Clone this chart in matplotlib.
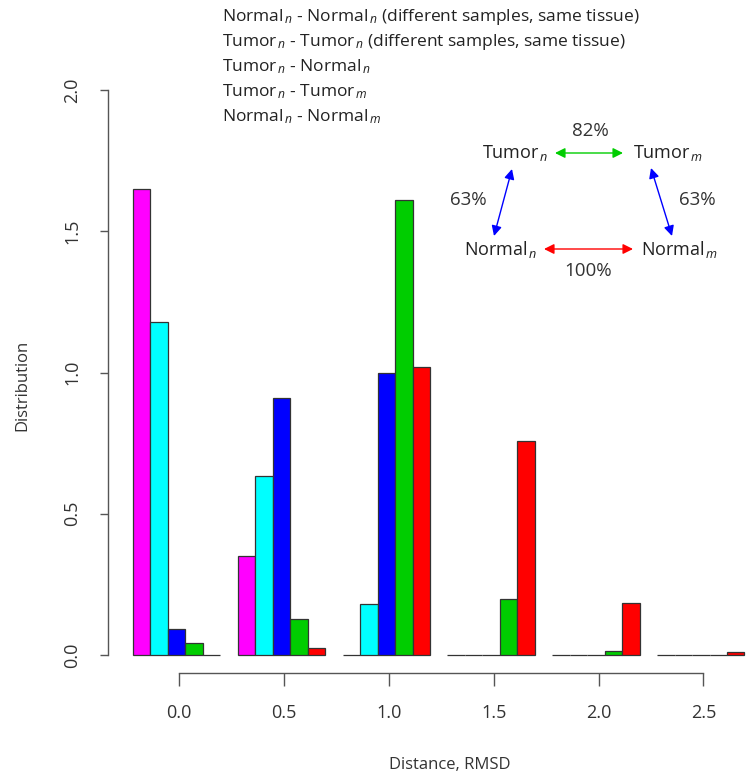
import numpy as np
import matplotlib
matplotlib.use('Agg')
from matplotlib import pyplot as plt

plt.rcParams['font.family'] = ['Open Sans', 'DejaVu Sans']
plt.rcParams['mathtext.fontset'] = 'custom'
plt.rcParams['mathtext.rm'] = 'Open Sans'
plt.rcParams['mathtext.it'] = 'Open Sans:italic'

# Data
groups = [0.0, 0.5, 1.0, 1.5, 2.0, 2.5]
normal_same = [1.65, 0.350, 0.0, 0.0, 0.0, 0.0]      # magenta
tumor_same = [1.18, 0.635, 0.18, 0.0, 0.0, 0.0]      # cyan
tumor_normal = [0.091, 0.909, 1.0, 0.0, 0.0, 0.0]    # blue
tumor_tumor = [0.041, 0.126, 1.61, 0.197, 0.015, 0.0]  # green
normal_normal = [0.0, 0.024, 1.02, 0.757, 0.183, 0.012]  # red
series = [normal_same, tumor_same, tumor_normal, tumor_tumor, normal_normal]
colors = ['#ff00ff', '#00ffff', '#0000ff', '#00cd00', '#ff0000']
ytick_vals = [0.0, 0.5, 1.0, 1.5, 2.0]

legend_lines = [
    r'Normal$_{\,n}$ - Normal$_{\,n}$ (different samples, same tissue)',
    r'Tumor$_{\,n}$ - Tumor$_{\,n}$ (different samples, same tissue)',
    r'Tumor$_{\,n}$ - Normal$_{\,n}$',
    r'Tumor$_{\,n}$ - Tumor$_{\,m}$',
    r'Normal$_{\,n}$ - Normal$_{\,m}$',
]

W, H = 747, 779
fig = plt.figure(figsize=(W / 100, H / 100), dpi=100)

# axes placed in pixel terms (left spine at x=108, bottom axis line at y=673)
ax = fig.add_axes([108 / W, (H - 673) / H, (W - 108) / W, (673 - 90) / H])
ax.set_xlim(-0.340, 2.708)
ax.set_ylim(-0.0637, 2.0)

bw = 0.5 / 6
for i, (vals, c) in enumerate(zip(series, colors)):
    xs = np.array(groups) - 0.0125 + (i - 2) * bw
    ax.bar(xs, vals, width=bw, color=c, edgecolor='#333333', linewidth=0.9)

for s in ['top', 'right']:
    ax.spines[s].set_visible(False)
ax.spines['left'].set_bounds(0, 2.0)
ax.spines['bottom'].set_bounds(0, 2.5)
for s in ['left', 'bottom']:
    ax.spines[s].set_color('#555555')
    ax.spines[s].set_linewidth(1.0)

ax.set_yticks(ytick_vals)
ax.set_yticklabels(['%.1f' % v for v in ytick_vals], rotation=90, va='center')
ax.set_xticks(groups)
ax.set_xticklabels(['%.1f' % v for v in groups])
ax.tick_params(axis='y', length=6, width=1.0, color='#555555', pad=13,
               labelsize=13, labelcolor='#333333')
ax.tick_params(axis='x', length=9, width=1.0, color='#555555', pad=13,
               labelsize=13, labelcolor='#333333')


def px(x, y):
    return x / W, 1 - y / H


fig.text(*px(22, 385), 'Distribution', rotation=90, ha='center', va='center',
         fontsize=12, color='#333333')
fig.text(*px(450, 765), 'Distance, RMSD', ha='center', va='center',
         fontsize=12, color='#333333')

for k, line in enumerate(legend_lines):
    fig.text(*px(222, 17 + 24.8 * k), line, ha='left', va='center',
             fontsize=12.5, color='#222222')

# diagram
fs = 13
fig.text(*px(515, 153), r'Tumor$_{\,n}$', ha='center', va='center', fontsize=fs, color='#222222')
fig.text(*px(668, 153), r'Tumor$_{\,m}$', ha='center', va='center', fontsize=fs, color='#222222')
fig.text(*px(501, 249), r'Normal$_{\,n}$', ha='center', va='center', fontsize=fs, color='#222222')
fig.text(*px(680, 249), r'Normal$_{\,m}$', ha='center', va='center', fontsize=fs, color='#222222')
fig.text(*px(590, 131), '82%', ha='center', va='center', fontsize=13.5, color='#333333')
fig.text(*px(468, 200), '63%', ha='center', va='center', fontsize=13.5, color='#333333')
fig.text(*px(697, 200), '63%', ha='center', va='center', fontsize=13.5, color='#333333')
fig.text(*px(588, 271), '100%', ha='center', va='center', fontsize=13.5, color='#333333')

arrows = [((555, 153), (623, 153), '#00cd00'),
          ((544, 249), (633, 249), '#ff0000'),
          ((512, 169), (494, 236), '#0000ff'),
          ((651, 168), (672, 236), '#0000ff')]
for (x0, y0), (x1, y1), c in arrows:
    fig.add_artist(matplotlib.patches.FancyArrowPatch(
        px(x0, y0), px(x1, y1), transform=fig.transFigure,
        arrowstyle='<|-|>,head_length=6,head_width=3', color=c, lw=1.0,
        shrinkA=0, shrinkB=0))

fig.savefig('out.png', dpi=100)
